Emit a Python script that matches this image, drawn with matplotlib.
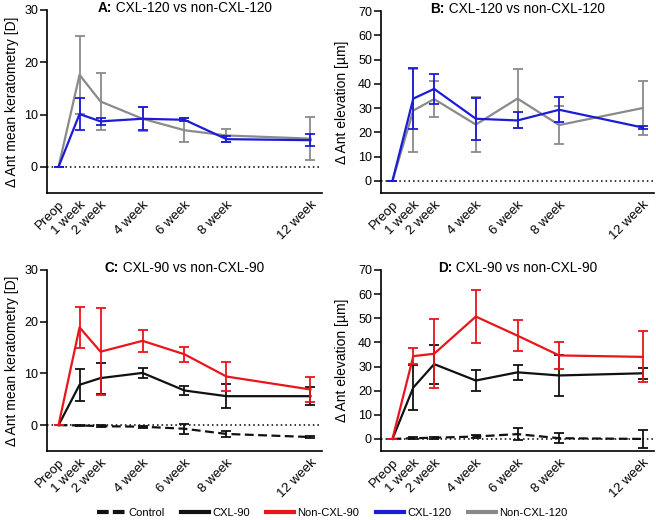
import matplotlib
matplotlib.use("Agg")
import matplotlib.pyplot as plt
from matplotlib.lines import Line2D

plt.rcParams['font.family'] = ['Liberation Sans', 'DejaVu Sans']

# ---------------- data ----------------
weeks = [0, 1, 2, 4, 6, 8, 12]
xlabels = ['Preop', '1 week', '2 week', '4 week', '6 week', '8 week', '12 week']

# Panel A: anterior mean keratometry [D]
a_cxl120 = [0, 10.1, 8.7, 9.2, 9.0, 5.3, 5.1]
a_cxl120_err = [0, 3.0, 0.6, 2.2, 0.3, 0.6, 1.1]
a_non120 = [0, 17.6, 12.5, 9.2, 7.0, 6.0, 5.4]
a_non120_err = [0, 7.4, 5.5, 2.3, 2.3, 1.2, 4.1]

# Panel B: anterior elevation [um]
b_cxl120 = [0, 33.9, 37.9, 25.6, 24.9, 29.3, 22.0]
b_cxl120_err = [0, 12.6, 6.2, 8.7, 3.3, 5.2, 0.8]
b_non120 = [0, 29.0, 33.7, 23.2, 33.9, 23.0, 30.0]
b_non120_err = [0, 17.2, 7.5, 11.4, 12.0, 8.0, 11.0]

# Panel C: anterior mean keratometry [D]
c_non90 = [0, 18.9, 14.2, 16.3, 13.7, 9.4, 6.9]
c_non90_err = [0, 4.0, 8.4, 2.1, 1.4, 2.8, 2.4]
c_cxl90 = [0, 7.8, 9.1, 10.1, 6.7, 5.6, 5.6]
c_cxl90_err = [0, 3.1, 3.0, 0.9, 0.8, 2.3, 1.8]
c_control = [0, -0.05, -0.2, -0.3, -0.7, -1.7, -2.3]
c_control_err = [0, 0.1, 0.2, 0.2, 1.0, 0.5, 0.2]

# Panel D: anterior elevation [um]
d_non90 = [0, 34.3, 35.3, 50.7, 42.8, 34.6, 34.0]
d_non90_err = [0, 3.3, 14.4, 11.0, 6.3, 5.7, 10.6]
d_cxl90 = [0, 21.3, 31.0, 24.2, 27.6, 26.3, 27.2]
d_cxl90_err = [0, 9.5, 8.1, 4.2, 3.1, 8.6, 2.3]
d_control = [0, 0.3, 0.5, 1.0, 2.0, 0.3, 0.0]
d_control_err = [0, 0.3, 0.4, 0.5, 2.5, 2.0, 3.6]

titles = ['A:', 'B:', 'C:', 'D:']
subtitles = ['CXL-120 vs non-CXL-120', 'CXL-120 vs non-CXL-120',
             'CXL-90 vs non-CXL-90', 'CXL-90 vs non-CXL-90']
ylab_k = '\u0394 Ant mean keratometry [D]'
ylab_e = '\u0394 Ant elevation [\u00b5m]'
legend_labels = ['Control', 'CXL-90', 'Non-CXL-90', 'CXL-120', 'Non-CXL-120']

RED = '#e8161b'
BLUE = '#1c1cd6'
GRAY = '#8a8a8a'
BLACK = '#111111'

W, H = 656, 520
fig = plt.figure(figsize=(W / 100, H / 100), dpi=100)


def px_axes(l, r, t, b):
    return fig.add_axes([l / W, 1 - b / H, (r - l) / W, (b - t) / H])


axA = px_axes(47, 322, 10, 193)
axB = px_axes(381, 654, 11, 193)
axC = px_axes(47, 322, 270, 451)
axD = px_axes(381, 654, 270, 451)


def series(ax, y, e, color, ls='-', z=3):
    ax.errorbar(weeks, y, yerr=e, color=color, lw=1.6, ls=ls,
                elinewidth=1.3, capsize=3.3, capthick=1.3, zorder=z,
                dashes=(4, 2) if ls == '--' else (None, None))


def style(ax, ylim, yticks, ylabel, labx):
    ax.set_xlim(-0.55, 12.55)
    ax.set_ylim(*ylim)
    ax.set_yticks(yticks)
    ax.set_xticks(weeks)
    ax.set_xticklabels(xlabels, rotation=45, ha='right',
                       rotation_mode='anchor', fontsize=9.5)
    ax.tick_params(axis='y', labelsize=9, length=5, width=1.1, pad=1.5)
    ax.tick_params(axis='x', length=0, pad=4)
    for s in ['top', 'right']:
        ax.spines[s].set_visible(False)
    for s in ['left', 'bottom']:
        ax.spines[s].set_linewidth(1.2)
    ax.axhline(0, color='black', ls=(0, (1, 2)), lw=1.1, zorder=1)
    ax.set_ylabel(ylabel, fontsize=10)
    ax.yaxis.set_label_coords(labx, 0.5)


series(axA, a_non120, a_non120_err, GRAY, z=3)
series(axA, a_cxl120, a_cxl120_err, BLUE, z=4)
style(axA, (-5, 30), [0, 10, 20, 30], ylab_k, -0.102)

series(axB, b_non120, b_non120_err, GRAY, z=3)
series(axB, b_cxl120, b_cxl120_err, BLUE, z=4)
style(axB, (-5, 70), list(range(0, 71, 10)), ylab_e, -0.117)

series(axC, c_control, c_control_err, BLACK, ls='--', z=2)
series(axC, c_cxl90, c_cxl90_err, BLACK, z=3)
series(axC, c_non90, c_non90_err, RED, z=4)
style(axC, (-5, 30), [0, 10, 20, 30], ylab_k, -0.102)

series(axD, d_control, d_control_err, BLACK, ls='--', z=2)
series(axD, d_cxl90, d_cxl90_err, BLACK, z=3)
series(axD, d_non90, d_non90_err, RED, z=4)
style(axD, (-5, 70), list(range(0, 71, 10)), ylab_e, -0.117)

# titles: bold panel letter + regular text, centred over each axes
renderer = fig.canvas.get_renderer()
for ax, t, s in zip([axA, axB, axC, axD], titles, subtitles):
    bb = ax.get_position()
    cx = (bb.x0 + bb.x1) / 2 * W
    ty = bb.y1 * H + 2
    t1 = fig.text(0, 0, t, fontsize=9.8, weight='bold', va='center',
                  transform=None)
    t2 = fig.text(0, 0, ' ' + s, fontsize=9.8, va='center', transform=None)
    w1 = t1.get_window_extent(renderer).width
    w2 = t2.get_window_extent(renderer).width
    x0 = cx - (w1 + w2) / 2
    t1.set_position((x0, ty))
    t2.set_position((x0 + w1, ty))

legend_colors = [BLACK, BLACK, RED, BLUE, GRAY]
legend_styles = ['--', '-', '-', '-', '-']
handles = []
for lab, c, st in zip(legend_labels, legend_colors, legend_styles):
    h = Line2D([], [], color=c, lw=3, ls=st, label=lab)
    if st == '--':
        h.set_dashes((2.8, 1.0))
    handles.append(h)
fig.legend(handles=handles, loc='center', ncol=5, frameon=False,
           bbox_to_anchor=(332 / W, 1 - 513 / H), fontsize=8,
           handlelength=2.5, handletextpad=0.3, columnspacing=1.5,
           borderpad=0.2)

fig.savefig('out.png', dpi=100)
